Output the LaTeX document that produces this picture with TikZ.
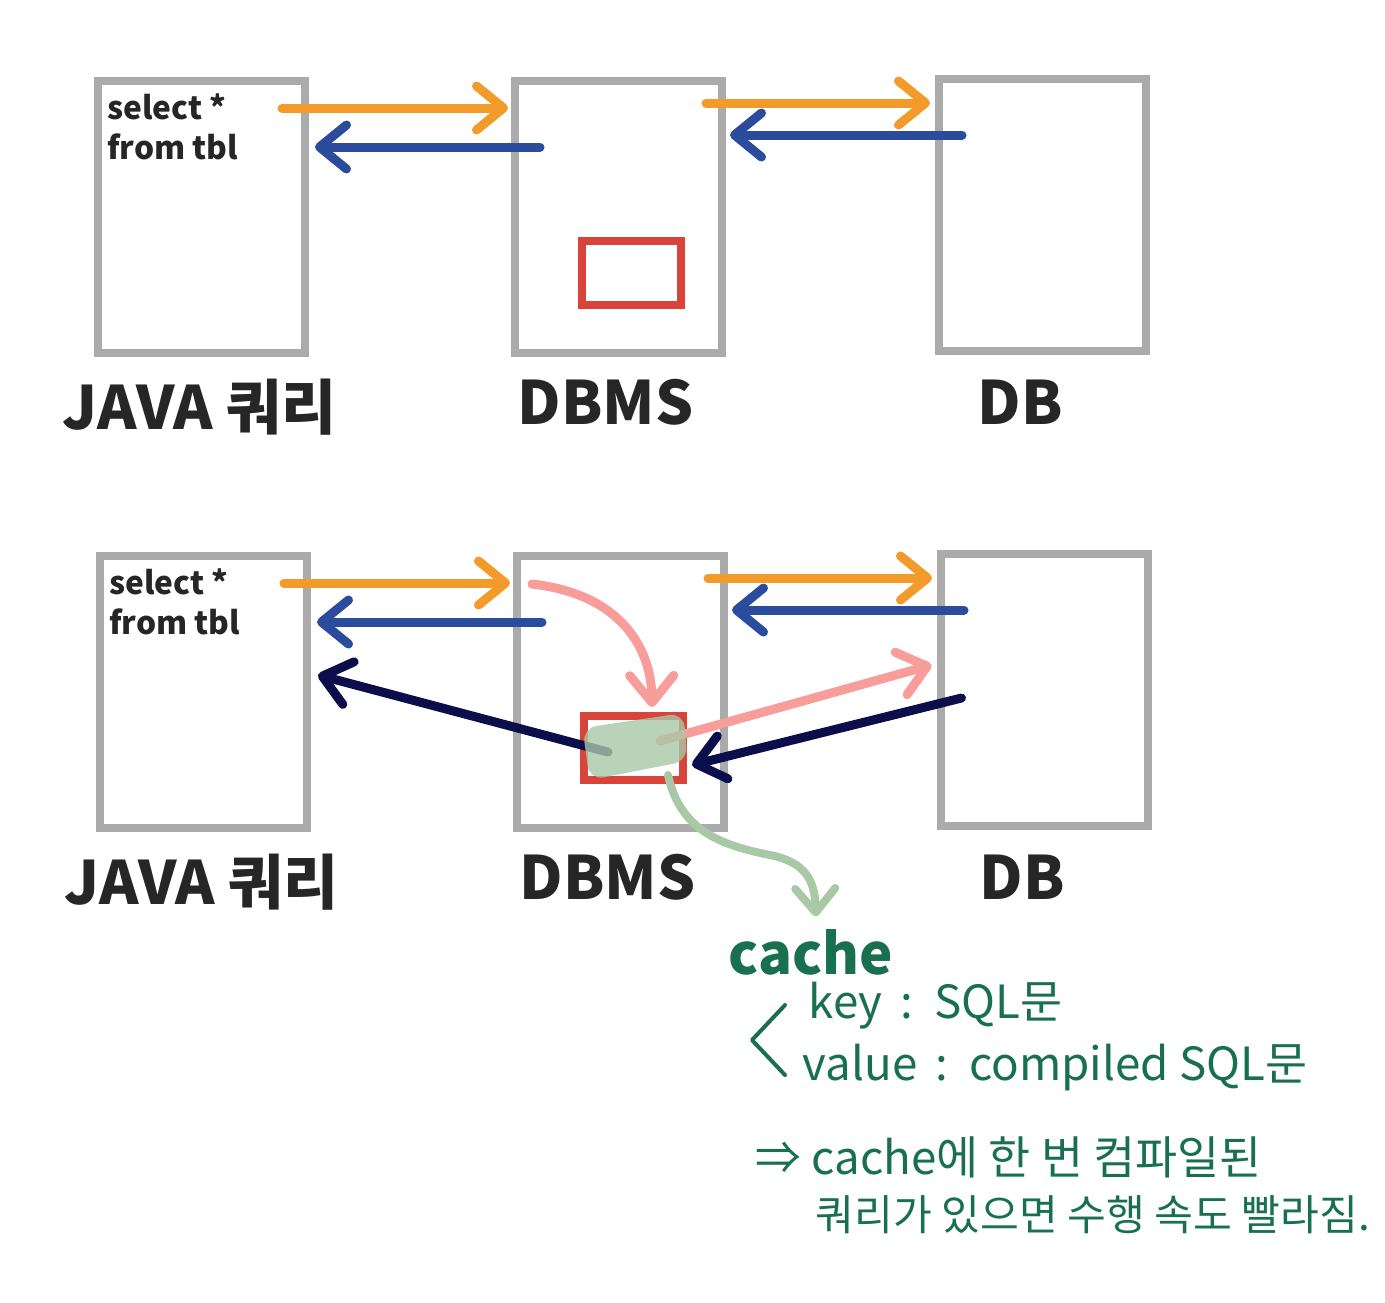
\documentclass[tikz,border=0pt]{standalone}
\usepackage{fontspec}
\setmainfont{Noto Sans CJK KR}
\usepackage{tikz}
\usetikzlibrary{calc,arrows.meta}
\definecolor{boxgray}{RGB}{171,171,171}
\definecolor{arrorange}{RGB}{242,155,42}
\definecolor{arrblue}{RGB}{43,76,156}
\definecolor{cachered}{RGB}{217,68,58}
\definecolor{arrpink}{RGB}{249,157,154}
\definecolor{arrnavy}{RGB}{11,14,74}
\definecolor{cachegreen}{RGB}{168,200,166}
\definecolor{notegreen}{RGB}{25,112,79}
\definecolor{inkblack}{RGB}{38,38,38}

\begin{document}
\begin{tikzpicture}[x=0.01cm, y=-0.01cm,
  box/.style={draw=boxgray, line width=0.08cm, minimum width=2.06cm, minimum height=2.72cm, inner sep=0},
  cachebox/.style={draw=cachered, line width=0.08cm, minimum width=0.99cm, minimum height=0.64cm, inner sep=0},
  lbl/.style={font=\bfseries\fontsize{17}{20}\selectfont, text=inkblack},
  sqltxt/.style={font=\bfseries\fontsize{9}{11.5}\selectfont, text=inkblack, align=left, anchor=north west, inner sep=0},
  note/.style={font=\fontsize{13}{16}\selectfont, text=notegreen, anchor=west, inner sep=0},
  result/.style={text=notegreen, anchor=west, inner sep=0},
  arr/.style={line width=0.09cm, line cap=round, -{Straight Barb[length=2.7mm,width=4.4mm,round]}}]
  \useasboundingbox (0,0) rectangle (1385,1302);
  % both rows: boxes, labels and the plain query round trip
  \foreach \r/\dx/\dy in {1/0/0, 2/2/475} {
    \node[box] (java\r) at (201.5+\dx,217+\dy) {};
    \node[box] (dbms\r) at (618.5+\dx,217+\dy) {};
    \node[box] (db\r) at (1042.5+\dx,215+\dy) {};
    \node[cachebox] (cache\r) at (631.5+\dx,273+\dy) {};
    \node[lbl] (javalbl\r) at ($(java\r.south)+(-2,50)$) {JAVA 쿼리};
    \node[lbl] (dbmslbl\r) at ($(dbms\r.south)+(-13,45)$) {DBMS};
    \node[lbl] (dblbl\r) at ($(db\r.south)+(-22,47)$) {DB};
    \node[sqltxt] (sql\r) at ($(java\r.north west)+(12,16)$) {select *\\from tbl};
    \draw[arr, arrorange] ($(java\r)+(80.5,-109)$) -- ($(dbms\r)+(-110.5,-109)$);
    \draw[arr, arrblue] ($(dbms\r)+(-78.5,-70)$) -- ($(java\r)+(113.5,-70)$);
    \draw[arr, arrorange] ($(dbms\r)+(87.5,-114)$) -- ($(db\r)+(-112.5,-112)$);
    \draw[arr, arrblue] ($(db\r)+(-80.5,-80)$) -- ($(dbms\r)+(111.5,-82)$);
  }
  % second row: going through the cache
  \draw[arr, arrpink] ($(dbms2)+(-88.5,-108)$) .. controls ($(dbms2)+(0,-98)$) and ($(cache2)+(18,-100)$) .. ($(cache2)+(18.5,-41)$);
  \draw[arr, arrpink] ($(cache2)+(26.5,-7)$) -- ($(db2)+(-113,-25)$);
  \draw[arr, arrnavy] ($(db2)+(-83,8)$) -- ($(cache2)+(58.5,17)$);
  \draw[arr, arrnavy] ($(cache2)+(-25.5,4)$) -- ($(java2)+(114.5,-17)$);
  % cached plan
  \fill[cachegreen, opacity=0.8, rounded corners=4pt] ($(cache2)+(-51,-20)$) -- ($(cache2)+(50,-35)$)
    -- ($(cache2)+(54,13)$) -- ($(cache2)+(-44,32)$) -- cycle;
  % note
  \node[font=\bfseries\fontsize{16}{20}\selectfont, text=notegreen, anchor=west, inner sep=0] (cachelbl) at (728,952) {cache};
  \draw[line width=0.08cm, cachegreen, line cap=round, -{Straight Barb[length=2.4mm,width=4mm,round]}]
    ($(cache2)+(34.5,27)$) .. controls (680,830) and (720,845) .. (770,855)
    .. controls (805,862) and (815,880) .. ($(cachelbl.north)+(5,-12)$);
  \node[note] (keyln) at (808,1006) {key \,:\, SQL문};
  \node[note] (valln) at (802,1068) {value \,:\, compiled SQL문};
  \draw[notegreen, line width=0.04cm, line cap=round, line join=round] (785,1005) -- (752,1040) -- (785,1075);
  \node[result, font=\fontsize{13}{15}\selectfont] (res1) at (755,1157) {⇒ cache에 한 번 컴파일된};
  \node[result, font=\fontsize{12}{14}\selectfont] (res2) at (815,1215) {쿼리가 있으면 수행 속도 빨라짐.};
\end{tikzpicture}
\end{document}
